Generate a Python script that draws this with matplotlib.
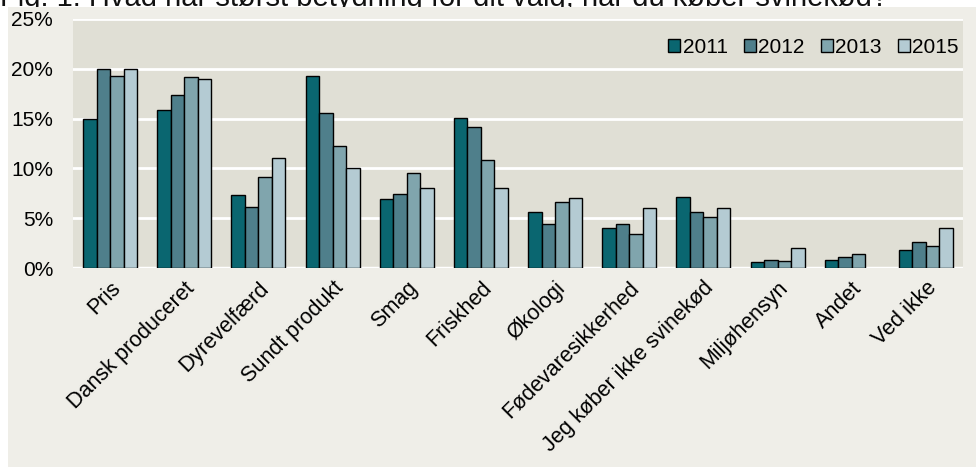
import matplotlib.pyplot as plt
import numpy as np
from matplotlib.patches import Rectangle

plt.rcParams['font.family'] = ['Liberation Sans', 'DejaVu Sans']

# Data
categories = ["Pris", "Dansk produceret", "Dyrevelfærd", "Sundt produkt", "Smag",
              "Friskhed", "Økologi", "Fødevaresikkerhed", "Jeg køber ikke svinekød",
              "Miljøhensyn", "Andet", "Ved ikke"]
years = ["2011", "2012", "2013", "2015"]
v2011 = [15.0, 15.9, 7.3, 19.3, 6.9, 15.1, 5.6, 4.0, 7.1, 0.6, 0.8, 1.8]
v2012 = [20.0, 17.4, 6.1, 15.6, 7.4, 14.2, 4.4, 4.4, 5.6, 0.8, 1.1, 2.6]
v2013 = [19.3, 19.2, 9.1, 12.2, 9.5, 10.8, 6.6, 3.4, 5.1, 0.7, 1.4, 2.2]
v2015 = [20.0, 19.0, 11.0, 10.0, 8.0, 8.0, 7.0, 6.0, 6.0, 2.0, np.nan, 4.0]
series = [v2011, v2012, v2013, v2015]
colors = ['#0A6670', '#4F7F8B', '#80A5AD', '#B4CBD3']

W, H = 976, 467
fig = plt.figure(figsize=(W / 100, H / 100), dpi=100, facecolor='white')
# beige chart area (white strip at left and top), covering the lower part of the title
fig.patches.append(Rectangle((8 / W, 0), 1, (H - 7) / H, transform=fig.transFigure,
                             facecolor='#EFEEE8', edgecolor='none', zorder=-10))
fig.text(0, 1 - 6 / H, "Fig. 1. Hvad har størst betydning for dit valg, når du køber svinekød?",
         fontsize=21, ha='left', va='baseline', color='#111111', zorder=-20)

ax = fig.add_axes([73 / W, (H - 268) / H, (963 - 73) / W, (268 - 19) / H])
ax.set_facecolor('#E0DFD5')

x = np.arange(len(categories))
w = 0.182
for i, (vals, yr, c) in enumerate(zip(series, years, colors)):
    ax.bar(x + (i - 1.5) * w, vals, w, color=c, edgecolor='black', linewidth=1.0,
           label=yr, zorder=3)

ax.set_xlim(-0.5, len(categories) - 0.5)
ax.set_ylim(0, 25)
ax.set_yticks([0, 5, 10, 15, 20, 25])
ax.set_yticklabels([f'{t}%' for t in [0, 5, 10, 15, 20, 25]], fontsize=15)
ax.yaxis.grid(True, color='white', linewidth=2, zorder=1)
ax.axhline(0, color='white', linewidth=2.5, zorder=2)
for s in ax.spines.values():
    s.set_visible(False)
ax.tick_params(axis='y', length=0, pad=14.4)
ax.tick_params(axis='x', length=0, pad=7)
ax.set_xticks(x)
ax.set_xticklabels(categories, rotation=45, ha='right', rotation_mode='anchor',
                   fontsize=15.5)
ax.set_axisbelow(True)

ax.legend(loc='upper right', bbox_to_anchor=(1.0, 0.94), ncol=4, frameon=False,
          fontsize=15, handlelength=0.58, handleheight=0.58, handletextpad=0.12,
          columnspacing=0.77, borderaxespad=0, borderpad=0.2)

fig.savefig('out.png', dpi=100, facecolor=fig.get_facecolor())
